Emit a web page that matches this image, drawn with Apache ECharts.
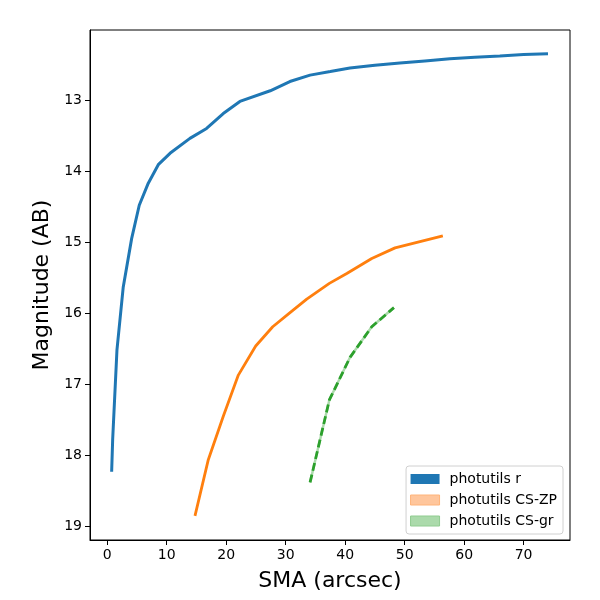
<!DOCTYPE html>
<html>
<head>
<meta charset="utf-8">
<script src="https://cdn.jsdelivr.net/npm/echarts@6/dist/echarts.min.js"></script>
<style>
  html, body { margin: 0; padding: 0; background: #fff; }
  #chart { width: 600px; height: 600px; }
</style>
</head>
<body>
<div id="chart"></div>
<script>
// photutils r
var rSma = [0.74, 0.91, 1.63, 2.69, 4.10, 5.38, 6.90, 8.58, 10.55, 13.9, 16.7, 19.5, 22.3, 27.4, 30.7, 34.1, 37.5, 40.8, 45.0, 49.2, 53.4, 57.6, 61.8, 66.0, 70.0, 74.1];
var rMag = [18.23, 17.78, 16.52, 15.63, 14.95, 14.48, 14.17, 13.91, 13.75, 13.54, 13.40, 13.19, 13.02, 12.87, 12.74, 12.65, 12.60, 12.55, 12.51, 12.48, 12.45, 12.42, 12.40, 12.38, 12.36, 12.35];
// photutils CS-ZP
var zpSma = [14.75, 16.99, 19.51, 22.04, 24.96, 27.82, 30.73, 33.54, 37.34, 40.27, 44.47, 48.39, 56.42];
var zpMag = [18.85, 18.06, 17.45, 16.87, 16.46, 16.19, 15.99, 15.80, 15.58, 15.44, 15.23, 15.08, 14.91];
// photutils CS-gr
var grSma = [34.1, 37.34, 40.82, 44.47, 48.2];
var grMag = [18.38, 17.22, 16.62, 16.19, 15.92];

var xTicks = [0, 10, 20, 30, 40, 50, 60, 70];
var yTicks = [13, 14, 15, 16, 17, 18, 19];

function pairs(xs, ys) {
    return xs.map(function (x, i) { return [x, ys[i]]; });
}

var font = 'DejaVu Sans';
var chart = echarts.init(document.getElementById('chart'));

chart.setOption({
    animation: false,
    textStyle: { fontFamily: font },
    grid: {
        left: 90, right: 30, top: 30, bottom: 60,
        show: true, borderColor: '#000', borderWidth: 1
    },
    xAxis: {
        type: 'value',
        min: -2.9, max: 77.8,
        name: 'SMA (arcsec)',
        nameLocation: 'middle',
        nameGap: 30,
        nameTextStyle: { fontSize: 22, color: '#000', fontFamily: font },
        splitLine: { show: false },
        axisLine: { show: true, onZero: false, lineStyle: { color: '#000' } },
        axisTick: { show: true, length: 5, customValues: xTicks, lineStyle: { color: '#000' } },
        axisLabel: { customValues: xTicks, fontSize: 14, color: '#000', margin: 8, fontFamily: font }
    },
    yAxis: {
        type: 'value',
        inverse: true,
        min: 12.015, max: 19.19,
        name: 'Magnitude (AB)',
        nameLocation: 'middle',
        nameGap: 35,
        nameTextStyle: { fontSize: 22, color: '#000', fontFamily: font },
        splitLine: { show: false },
        axisLine: { show: true, onZero: false, lineStyle: { color: '#000' } },
        axisTick: { show: true, length: 5, customValues: yTicks, lineStyle: { color: '#000' } },
        axisLabel: { customValues: yTicks, fontSize: 14, color: '#000', margin: 8, fontFamily: font }
    },
    legend: {
        right: 37, bottom: 66,
        orient: 'vertical',
        icon: 'rect',
        itemWidth: 29, itemHeight: 10,
        itemGap: 7,
        padding: [6, 6, 6, 4],
        borderColor: '#d0d0d0', borderWidth: 1, borderRadius: 3,
        backgroundColor: 'rgba(255,255,255,0.8)',
        textStyle: { fontSize: 14, color: '#000', fontFamily: font, padding: [0, 0, 0, 5] },
        data: [
            { name: 'photutils r', itemStyle: { color: '#1f77b4' } },
            { name: 'photutils CS-ZP', itemStyle: { color: '#ffc69c', borderColor: '#ffb47a', borderWidth: 1 } },
            { name: 'photutils CS-gr', itemStyle: { color: '#abdaab', borderColor: '#90cc90', borderWidth: 1 } }
        ]
    },
    series: [
        {
            name: 'photutils r', type: 'line', data: pairs(rSma, rMag),
            showSymbol: false, itemStyle: { color: '#1f77b4' },
            lineStyle: { color: '#1f77b4', width: 3 }
        },
        {
            name: 'photutils CS-ZP', type: 'line', data: pairs(zpSma, zpMag),
            showSymbol: false, itemStyle: { color: '#ff7f0e' },
            lineStyle: { color: '#ff7f0e', width: 2.8 }
        },
        {
            // light band under the dashed line
            type: 'line', data: pairs(grSma, grMag), silent: true,
            showSymbol: false, lineStyle: { color: '#abdaab', width: 2.5 }
        },
        {
            name: 'photutils CS-gr', type: 'line', data: pairs(grSma, grMag),
            showSymbol: false, itemStyle: { color: '#2ca02c' },
            lineStyle: { color: '#2ca02c', width: 2.8, type: [8, 4] }
        }
    ]
});
</script>
</body>
</html>
